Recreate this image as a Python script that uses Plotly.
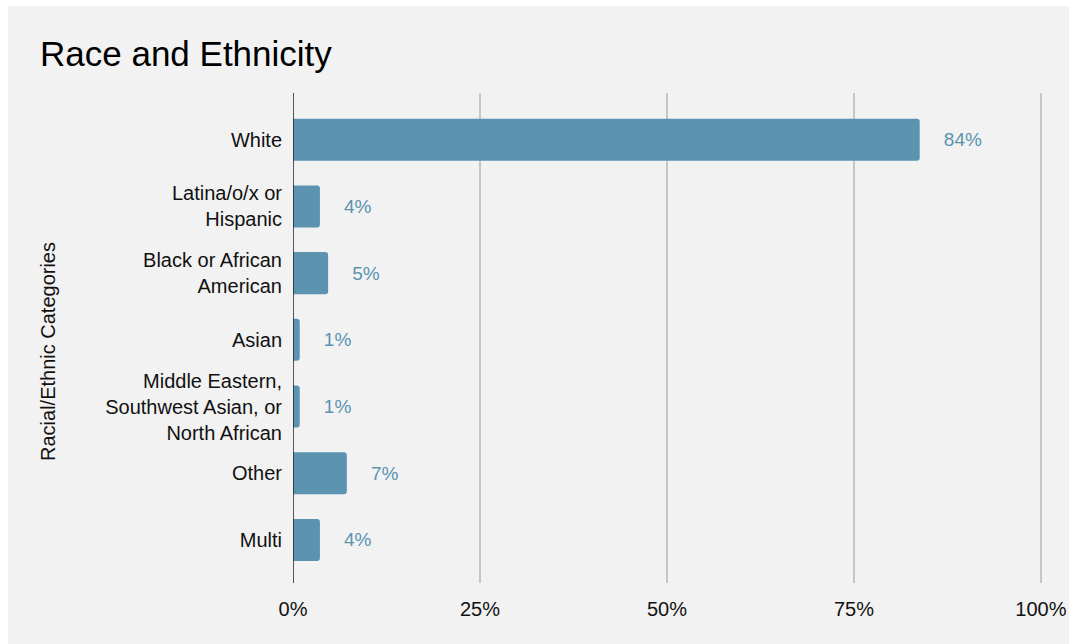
import plotly.graph_objects as go

categories = ["White", "Latina/o/x or<br>Hispanic", "Black or African<br>American", "Asian",
              "Middle Eastern,<br>Southwest Asian, or<br>North African", "Other", "Multi"]
values = [0.838, 0.036, 0.047, 0.009, 0.009, 0.072, 0.036]
labels = ["84%", "4%", "5%", "1%", "1%", "7%", "4%"]
x_ticks = [0, 0.25, 0.5, 0.75, 1.0]
x_ticklabels = ["0%", "25%", "50%", "75%", "100%"]
y_title = "Racial/Ethnic Categories"

BAR = "#5b93b1"
BG = "#f2f2f2"
FONT = "Liberation Sans, Arial, Helvetica, sans-serif"

pad = "\u00a0" * 4
fig = go.Figure(go.Bar(
    y=categories, x=values, orientation="h",
    marker=dict(color=BAR, line=dict(width=0)),
    width=0.63,
    text=[pad + t for t in labels], textposition="outside",
    textfont=dict(color=BAR, size=19, family=FONT),
    cliponaxis=False, hoverinfo="skip",
))

W, H = 1069, 644
L, R, T, B = 293, 27, 93, 61
pw, ph = W - L - R, H - T - B
fig.add_shape(type="rect", xref="paper", yref="paper", layer="below",
              x0=(8 - L) / pw, x1=(W + 5 - L) / pw,
              y0=(H - B - (H + 5)) / ph, y1=(H - B - 6) / ph,
              fillcolor=BG, line=dict(width=0))

fig.add_annotation(text=y_title, textangle=-90, showarrow=False,
                   xref="paper", yref="paper",
                   x=(48 - L) / pw, y=(H - B - 352) / ph,
                   xanchor="center", yanchor="middle",
                   font=dict(size=20, color="#111111", family=FONT))

fig.update_layout(
    width=W, height=H,
    margin=dict(l=L, r=R, t=T, b=B, autoexpand=False),
    paper_bgcolor="white", plot_bgcolor=BG,
    barcornerradius=3,
    font=dict(family=FONT, size=20, color="#111111"),
    title=dict(text="Race and Ethnicity", x=40 / W, xref="container", xanchor="left",
               y=1 - 54 / H, yref="container", yanchor="middle",
               font=dict(size=35, color="#000000", family=FONT)),
    showlegend=False,
    xaxis=dict(range=[0, 1.0015], tickvals=x_ticks, ticktext=x_ticklabels,
               showgrid=True, gridcolor="#c6c6c6", gridwidth=1.5, zeroline=False,
               showline=False, ticks="", ticklabelstandoff=12,
               tickfont=dict(size=20, color="#111111")),
    yaxis=dict(autorange=False, range=[6.645, -0.70], showgrid=False, zeroline=False,
               showline=False, ticks="", ticklabelstandoff=10,
               tickfont=dict(size=20, color="#111111")),
)
fig.add_shape(type="line", xref="x", yref="paper", x0=0, x1=0, y0=0, y1=1,
              line=dict(color="#222222", width=1.5), layer="above")
fig.write_html("out.html", config={"displayModeBar": False},
               post_script="document.body.style.margin='0';document.body.style.overflow='hidden';")
